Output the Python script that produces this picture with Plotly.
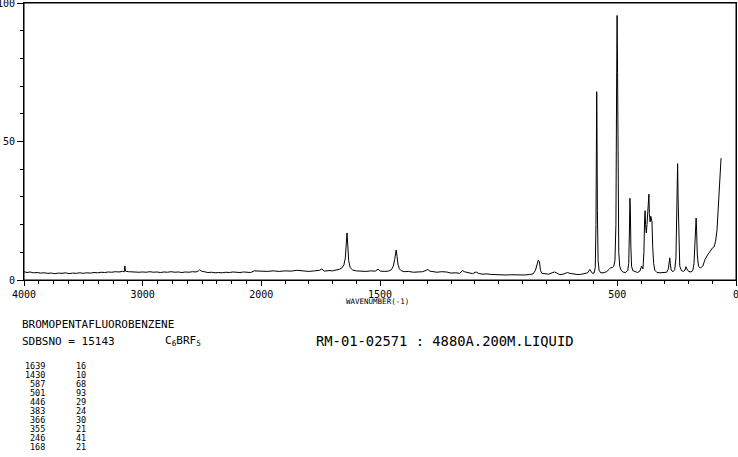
import plotly.graph_objects as go

# ---- data ----
wavenumber = [4000, 3975, 3950, 3920, 3890, 3860, 3830, 3800, 3770, 3740, 3710, 3680, 3650, 3620,
              3590, 3560, 3530, 3500, 3470, 3440, 3410, 3380, 3350, 3320, 3290, 3260, 3230, 3200,
              3170, 3155, 3150, 3145, 3120, 3090, 3060, 3030, 3000, 2970, 2940, 2910, 2880, 2850,
              2820, 2790, 2760, 2730, 2700, 2670, 2640, 2610, 2580, 2550, 2530, 2520, 2505, 2480,
              2450, 2420, 2390, 2360, 2330, 2300, 2270, 2240, 2210, 2180, 2150, 2120, 2090, 2060,
              2030, 2000, 1975, 1950, 1925, 1900, 1875, 1850, 1825, 1800, 1775, 1755, 1745, 1735,
              1715, 1700, 1685, 1670, 1660, 1652, 1646, 1642, 1639, 1636, 1632, 1626, 1615, 1600,
              1580, 1560, 1540, 1520, 1508, 1498, 1480, 1465, 1452, 1444, 1438, 1432, 1428, 1424,
              1418, 1410, 1395, 1380, 1360, 1340, 1320, 1305, 1298, 1290, 1275, 1260, 1240, 1220,
              1200, 1180, 1165, 1152, 1145, 1130, 1110, 1095, 1085, 1070, 1050, 1030, 1010, 990,
              970, 950, 930, 910, 890, 870, 855, 845, 838, 833, 828, 824, 818, 805, 790, 775, 765,
              755, 742, 725, 710, 700, 685, 670, 655, 640, 625, 616, 612, 605, 598, 593, 590, 588,
              587, 586, 584, 581, 577, 570, 560, 545, 535, 528, 522, 515, 510, 506, 503, 501, 499,
              497, 494, 490, 484, 475, 465, 456, 452, 449, 447, 445, 443, 440, 435, 425, 415, 405,
              398, 392, 388, 385, 383, 381, 378, 375, 370, 367, 365, 362, 359, 356, 354, 351, 347,
              342, 333, 320, 305, 292, 285, 281, 279, 277, 273, 265, 258, 253, 250, 248, 246, 244,
              241, 237, 230, 222, 215, 211, 207, 200, 190, 182, 177, 173, 170, 168, 166, 163, 158,
              150, 140, 130, 120, 110, 100, 92, 86, 80, 76, 72, 68, 65, 63]
intensity = [3.0, 2.7, 2.9, 2.6, 2.7, 2.5, 2.6, 2.4, 2.5, 2.3, 2.5, 2.4, 2.6, 2.3,
             2.5, 2.4, 2.6, 2.4, 2.6, 2.5, 2.7, 2.6, 2.8, 2.7, 2.9, 2.8, 3.0, 2.9,
             3.1, 3.0, 5.1, 3.2, 3.0, 2.9, 3.0, 2.8, 2.9, 2.8, 3.0, 2.8, 2.9, 2.7,
             2.9, 2.8, 3.0, 2.8, 2.9, 2.7, 2.9, 2.8, 3.0, 2.9, 3.3, 3.7, 3.2, 2.9,
             2.7, 2.8, 2.6, 2.7, 2.6, 2.8, 2.7, 2.9, 2.8, 2.7, 2.9, 2.8, 2.7, 3.3,
             3.2, 3.3, 3.1, 3.3, 3.1, 3.3, 3.2, 3.5, 3.2, 3.1, 3.3, 3.5, 4.0, 3.2,
             3.4, 3.3, 3.6, 3.9, 4.4, 5.5, 8.0, 14.0, 17.0, 13.0, 7.0, 4.5, 3.6, 3.3,
             3.2, 3.1, 3.3, 3.2, 3.9, 3.2, 3.1, 3.2, 3.7, 5.0, 7.5, 10.8, 8.5, 5.5,
             4.0, 3.3, 3.0, 3.1, 2.8, 2.9, 3.0, 3.5, 3.8, 3.2, 3.0, 2.8, 3.0, 2.9,
             2.5, 2.6, 2.4, 3.4, 3.0, 2.6, 2.3, 2.9, 2.4, 2.1, 2.2, 2.0, 1.9, 2.0,
             1.8, 1.9, 1.8, 1.9, 1.8, 2.0, 2.2, 3.5, 6.0, 7.2, 6.5, 3.5, 2.4, 2.2, 2.1, 2.6, 2.9,
             2.5, 1.9, 2.2, 2.7, 2.4, 2.1, 2.0, 2.0, 2.2, 2.6, 3.8, 3.4, 2.4, 2.5, 4.5, 20.0, 55.0,
             68.0, 60.0, 25.0, 7.0, 3.5, 2.6, 2.6, 3.0, 3.8, 4.5, 4.4, 5.0, 7.0, 20.0, 70.0, 95.5, 75.0,
             30.0, 10.0, 5.0, 3.5, 2.8, 2.7, 3.5, 6.0, 18.0, 29.5, 25.0, 12.0, 5.0, 3.4, 2.9, 2.7, 3.2,
             5.0, 4.0, 10.0, 22.0, 25.0, 20.0, 17.0, 20.0, 26.0, 31.0, 24.0, 21.0, 23.0, 22.0, 21.0, 12.0, 6.0,
             3.5, 2.7, 2.6, 2.7, 2.8, 4.0, 7.0, 8.0, 6.0, 3.5, 3.0, 3.8, 8.0, 25.0, 38.0, 42.0, 30.0,
             12.0, 5.0, 3.4, 3.1, 3.6, 4.8, 4.0, 3.1, 2.9, 3.4, 6.0, 12.0, 20.0, 22.4, 18.0, 9.0, 5.0,
             4.3, 5.0, 7.5, 9.0, 10.5, 11.5, 12.0, 14.0, 18.0, 25.0, 33.0, 39.0, 42.0, 44.0]

x_tick_values = [4000, 3000, 2000, 1500, 500, 0]
x_tick_labels = ["4000", "3000", "2000", "1500", "500", "0"]
y_tick_values = [0, 50, 100]

peak_wavenumbers = ["1639", "1430", "587", "501", "446", "383", "366", "355", "246", "168"]
peak_intensities = ["16", "10", "68", "93", "29", "24", "30", "21", "41", "21"]

compound_name = "BROMOPENTAFLUOROBENZENE"
sdbs_text = "SDBSNO = 15143"
formula_text = "C<sub>6</sub>BRF<sub>5</sub>"
run_text = "RM-01-02571 : 4880A.200M.LIQUID"
axis_title = "WAVENUMBER(-1)"


# the wavenumber axis is drawn at half scale above 2000
def to_axis(w):
    return w if w <= 2000 else 2000 + (w - 2000) / 2


FONT = "DejaVu Sans Mono"
W, H = 738, 457
L, R, T, B = 24, 2, 3, 177
PW, PH = W - L - R, H - T - B

major_u = [to_axis(t) for t in x_tick_values]
minor_x = [to_axis(v) for v in range(4000, 2000, -125)] + [to_axis(v) for v in range(2000, -1, -100)]
minor_x = [v for v in minor_x if v not in major_u]

fig = go.Figure()
fig.add_trace(go.Scatter(
    x=[to_axis(w) for w in wavenumber], y=intensity, mode="lines",
    line=dict(color="black", width=1), hoverinfo="skip", showlegend=False))

fig.update_layout(
    width=W, height=H, margin=dict(l=L, r=R, t=T, b=B, pad=0, autoexpand=False),
    paper_bgcolor="white", plot_bgcolor="white",
    font=dict(family=FONT, color="black", size=10),
    xaxis=dict(range=[3000, 0], showgrid=False, zeroline=False, automargin=False,
               showline=True, linecolor="black", linewidth=1, mirror=True,
               tickmode="array", tickvals=major_u, ticklabeloverflow="allow",
               ticktext=x_tick_labels, ticks="outside", ticklen=5, tickwidth=1,
               tickcolor="black", tickfont=dict(family=FONT, size=10),
               minor=dict(tickmode="array", tickvals=minor_x, ticks="outside",
                          ticklen=3, tickcolor="black", showgrid=False)),
    yaxis=dict(range=[0, 100], showgrid=False, zeroline=False, automargin=False,
               showline=True, linecolor="black", linewidth=1, mirror=True,
               tickmode="array", tickvals=y_tick_values, ticklabeloverflow="allow",
               ticks="outside", ticklen=6, tickwidth=1, tickcolor="black",
               tickfont=dict(family=FONT, size=10),
               minor=dict(tickmode="linear", tick0=0, dtick=10, ticks="outside",
                          ticklen=3, tickcolor="black", showgrid=False)),
)

# plot frame
fig.add_shape(type="rect", xref="paper", yref="paper", x0=0, x1=1, y0=0, y1=1,
              line=dict(color="black", width=1), fillcolor="rgba(0,0,0,0)", layer="above")


def px(xp):
    return (xp - L) / PW


def py(yp):
    return (H - B - yp) / PH


def note(text, x, y, size, xanchor="left"):
    fig.add_annotation(text=text, xref="paper", yref="paper", x=px(x), y=py(y),
                       xanchor=xanchor, yanchor="middle", showarrow=False,
                       font=dict(family=FONT, size=size, color="black"))


note(axis_title, 377, 301, 7.5, "center")
note(compound_name, 20, 324, 11)
note(sdbs_text, 20, 341, 11)
note(formula_text, 163, 341, 11)
note(run_text, 314, 341, 13.8)

for i, (wn, it) in enumerate(zip(peak_wavenumbers, peak_intensities)):
    yy = 366 + i * 9.0
    note(wn, 47, yy, 8.5, "right")
    note(it, 88, yy, 8.5, "right")

fig.write_html("out.html", config={"displayModeBar": False, "staticPlot": True},
               post_script="document.body.style.margin='0';document.body.style.overflow='hidden';")
